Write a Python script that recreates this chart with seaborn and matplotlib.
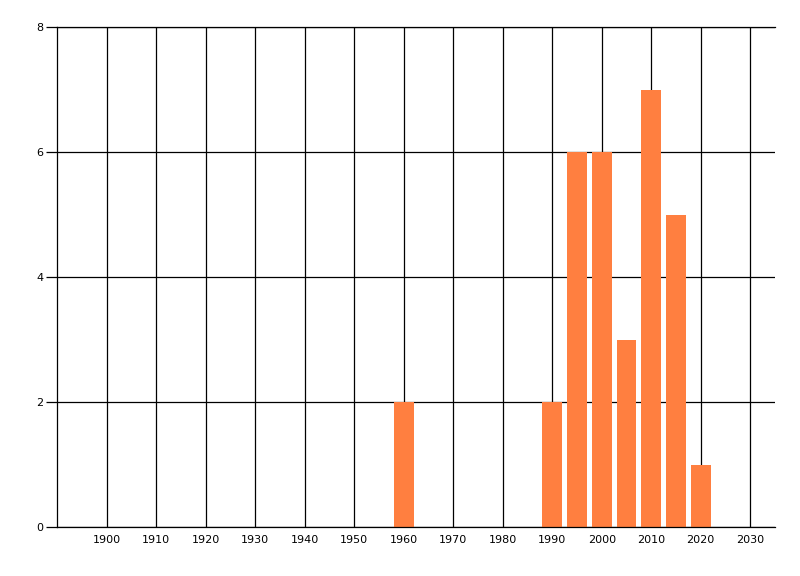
import pandas as pd
import seaborn as sns
import matplotlib.pyplot as plt

years = [1960, 1990, 1995, 2000, 2005, 2010, 2015, 2020]
counts = [2, 2, 6, 6, 3, 7, 5, 1]
xticks = list(range(1900, 2031, 10))
yticks = [0, 2, 4, 6, 8]

df = pd.DataFrame({"year": years, "count": counts})

sns.set_style("white")
plt.rcParams["font.family"] = ["DejaVu Sans"]

fig = plt.figure(figsize=(8, 5.76), dpi=100)
ax = fig.add_axes([0.07125, 0.085, 0.8975, 0.868])

sns.barplot(data=df, x="year", y="count", native_scale=True, color="#FF7F40",
            saturation=1, width=0.8, linewidth=0, edgecolor="none", ax=ax)

ax.set_xlim(1890, 2035)
ax.set_ylim(0, 8)
ax.set_xticks(xticks)
ax.set_yticks(yticks)
ax.set_xticklabels([str(t) for t in xticks])
ax.set_axisbelow(True)
ax.grid(True, color="black", linewidth=0.9)
ax.tick_params(axis="x", length=0, pad=6, labelsize=8, labelcolor="black")
ax.tick_params(axis="y", left=True, length=8, width=0.9, pad=2, labelsize=8,
               color="black", labelcolor="black")
ax.set_xlabel("")
ax.set_ylabel("")
for s in ["left", "bottom", "top"]:
    ax.spines[s].set_color("black")
    ax.spines[s].set_linewidth(0.9)
ax.spines["right"].set_visible(False)

fig.savefig("out.png", dpi=100)
